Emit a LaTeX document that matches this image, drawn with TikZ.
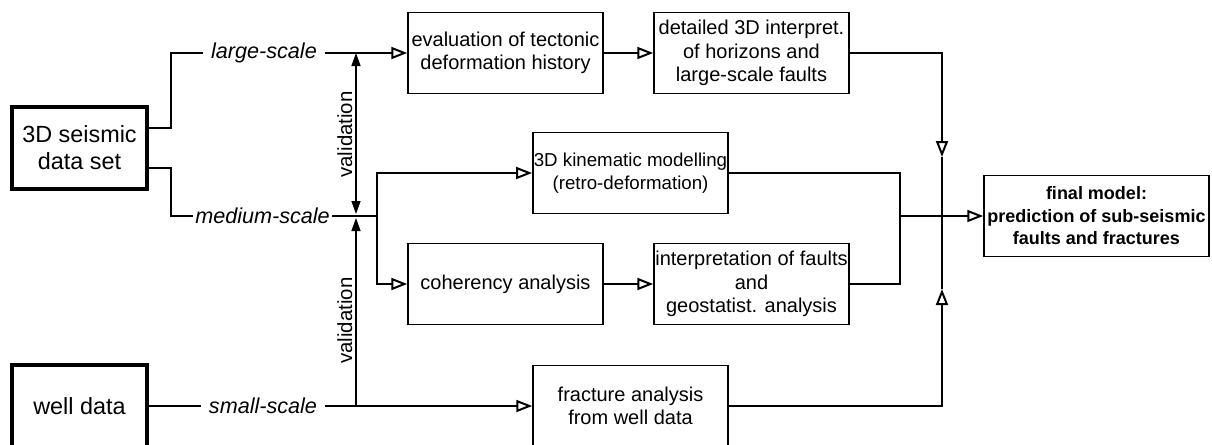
\documentclass[tikz,border=0pt]{standalone}
\usepackage{fontspec}
\setmainfont{Liberation Sans}
\usetikzlibrary{arrows.meta}

\begin{document}
\begin{tikzpicture}[x=0.5pt,y=-0.5pt,
  box/.style={draw, line width=0.75pt, minimum width=97.5pt, minimum height=40.5pt, inner sep=0.5pt, align=center, font=\fontsize{10}{11.8}\selectfont},
  bigbox/.style={draw, line width=1.6pt, minimum width=67.5pt, minimum height=41pt, align=center, font=\fontsize{11.7}{13.5}\selectfont},
  scalelabel/.style={inner sep=4pt, font=\fontsize{10.8}{12}\selectfont\itshape},
  vallabel/.style={sloped, above, inner sep=1.5pt, font=\fontsize{10.2}{12}\selectfont},
  flow/.style={line width=1pt},
  toarrow/.style={flow, -{Triangle[open, length=8pt, width=6pt]}},
  valboth/.style={line width=0.7pt, shorten <=1pt, {Triangle[length=6.5pt, width=4.5pt]}-{Triangle[length=6.5pt, width=4.5pt]}},
  valup/.style={line width=0.7pt, shorten >=1pt, -{Triangle[length=6.5pt, width=4.5pt]}},
]
\useasboundingbox (0,0) rectangle (1212,445);
% Data sources
\node[bigbox] (seismic) at (79.5,148) {3D seismic\\data set};
\node[bigbox] (well) at (79.5,406) {well data};
% Scale labels
\node[scalelabel] (large) at (264,53) {large-scale};
\node[scalelabel, inner sep=1pt] (medium) at (262.5,216) {medium-scale};
\node[scalelabel] (small) at (263,406) {small-scale};
% Processing steps
\node[box] (evaluation) at (505.5,53) {evaluation of tectonic\\deformation history};
\node[box] (detailed) at (751.5,53) {detailed 3D interpret.\\of horizons and\\large-scale faults};
\node[box, font=\fontsize{9.35}{11.8}\selectfont] (kinematic) at (630.5,173) {3D kinematic modelling\\(retro-deformation)};
\node[box] (coherency) at (505.5,284) {coherency analysis};
\node[box] (interp) at (751.5,284) {interpretation of faults\\and\\geostatist. analysis};
\node[box] (fracture) at (630.5,406) {fracture analysis\\from well data};
\node[box, minimum width=112.5pt, font=\bfseries\fontsize{9}{11.25}\selectfont] (final) at (1096.5,216) {final model:\\prediction of sub-seismic\\faults and fractures};
% Sources to scales
\draw[flow] ([yshift=10pt]seismic.east) -- ++(22,0) |- (large.west);
\draw[flow] ([yshift=-10pt]seismic.east) -- ++(22,0) |- (medium.west);
\draw[flow] (well.east) -- (small.west);
% Large-scale branch
\coordinate (valtop) at (356,53);
\draw[toarrow] (large.east) -- (evaluation.west);
\draw[toarrow] (evaluation.east) -- (detailed.west);
% Medium-scale branch
\coordinate (valmid) at (356,216);
\coordinate (split) at (377,216);
\draw[flow] (medium.east) -- (split);
\draw[toarrow] (split) |- (kinematic.west);
\draw[toarrow] (split) |- (coherency.west);
\draw[toarrow] (coherency.east) -- (interp.west);
% Small-scale branch
\coordinate (valbot) at (356,406);
\draw[toarrow] (small.east) -- (fracture.west);
% Validation arrows
\draw[valboth] (valmid) -- node[vallabel, pos=0.5] {validation} (valtop);
\draw[valup] (valbot) -- node[vallabel, pos=0.45] {validation} (valmid);
% Merge into final model
\coordinate (merge) at (900,216);
\draw[flow] (kinematic.east) -| (merge);
\draw[flow] (interp.east) -| (merge);
\draw[toarrow] (merge) -- (final.west);
% Collector line
\coordinate (collectdown) at (942,157);
\coordinate (collectup) at (942,289);
\draw[toarrow] (detailed.east) -| (collectdown);
\draw[flow] (collectdown) -- (collectup);
\draw[toarrow] (fracture.east) -| (collectup);
\end{tikzpicture}
\end{document}
